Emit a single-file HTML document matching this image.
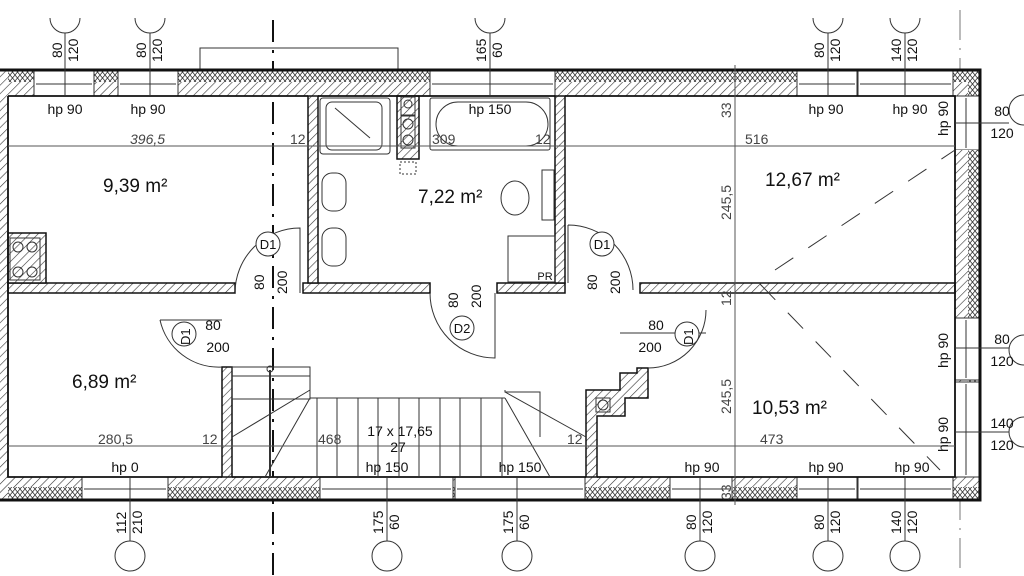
<!DOCTYPE html>
<html><head><meta charset="utf-8"><style>
html,body{margin:0;padding:0;background:#fff;}
svg{display:block;}
text{font-family:"Liberation Sans",sans-serif;fill:#111;}
</style></head><body>
<svg width="1024" height="576" viewBox="0 0 1024 576" xmlns="http://www.w3.org/2000/svg">
<defs>
<pattern id="h" width="6" height="6" patternUnits="userSpaceOnUse" patternTransform="rotate(45)">
<rect width="6" height="6" fill="#fff"/><line x1="0" y1="0" x2="0" y2="6" stroke="#333" stroke-width="1.2"/></pattern>
<pattern id="ins" width="5" height="6" patternUnits="userSpaceOnUse">
<rect width="5" height="6" fill="#fff"/><path d="M0,3 L2.5,0 L5,3 L2.5,6 Z" fill="none" stroke="#333" stroke-width="0.8"/></pattern>
</defs>

<!-- axis lines -->
<line x1="273" y1="20" x2="273" y2="576" stroke="#111" stroke-width="2" stroke-dasharray="22,8,3,8"/>
<line x1="960" y1="10" x2="960" y2="576" stroke="#777" stroke-width="1" stroke-dasharray="30,8,2,8"/>
<polyline points="200,70 200,48 398,48 398,70" fill="none" stroke="#333" stroke-width="1"/>

<!-- top wall: insulation + masonry -->
<rect x="0" y="70" width="980" height="12" fill="url(#ins)"/>
<rect x="0" y="82" width="980" height="14" fill="url(#h)"/>
<!-- right wall -->
<rect x="968" y="70" width="12" height="430" fill="url(#ins)"/>
<rect x="955" y="82" width="13" height="405" fill="url(#h)"/>
<!-- bottom wall -->
<rect x="0" y="487" width="980" height="13" fill="url(#ins)"/>
<rect x="0" y="477" width="980" height="10" fill="url(#h)"/>
<!-- left wall -->
<rect x="0" y="70" width="8" height="430" fill="url(#h)"/>

<!-- windows top (white gaps) -->
<g fill="#fff" stroke="#333" stroke-width="1">
<rect x="34" y="70" width="60" height="26"/>
<rect x="118" y="70" width="60" height="26"/>
<rect x="430" y="70" width="125" height="26"/>
<rect x="797" y="70" width="60" height="26"/>
<rect x="858" y="70" width="95" height="26"/>
<!-- bottom windows -->
<rect x="82" y="477" width="86" height="23"/>
<rect x="320" y="477" width="133" height="23"/>
<rect x="455" y="477" width="130" height="23"/>
<rect x="670" y="477" width="62" height="23"/>
<rect x="797" y="477" width="60" height="23"/>
<rect x="858" y="477" width="95" height="23"/>
<!-- right windows -->
<rect x="955" y="318" width="25" height="62"/>
<rect x="955" y="382" width="25" height="95"/>
<rect x="955" y="96" width="25" height="54"/>
</g>
<g stroke="#333" stroke-width="1" fill="none">
<line x1="36" y1="84" x2="92" y2="84"/><line x1="120" y1="84" x2="176" y2="84"/>
<line x1="432" y1="84" x2="553" y2="84"/><line x1="799" y1="84" x2="855" y2="84"/><line x1="860" y1="84" x2="951" y2="84"/>
<line x1="84" y1="489" x2="166" y2="489"/><line x1="322" y1="489" x2="451" y2="489"/><line x1="457" y1="489" x2="583" y2="489"/>
<line x1="672" y1="489" x2="730" y2="489"/><line x1="799" y1="489" x2="855" y2="489"/><line x1="860" y1="489" x2="951" y2="489"/>
<line x1="966" y1="320" x2="966" y2="378"/><line x1="966" y1="384" x2="966" y2="475"/><line x1="966" y1="98" x2="966" y2="148"/>
</g>
<rect x="955" y="150" width="25" height="140" fill="url(#h)"/>
<rect x="968" y="150" width="12" height="140" fill="url(#ins)"/>

<!-- outline of exterior -->
<path d="M0,70 H980 V500 H0" fill="none" stroke="#111" stroke-width="3"/>

<!-- interior walls -->
<g fill="url(#h)" stroke="#111" stroke-width="1.5">
<rect x="8" y="283" width="227" height="10"/>
<rect x="303" y="283" width="127" height="10"/>
<rect x="497" y="283" width="68" height="10"/>
<rect x="640" y="283" width="315" height="10"/>
<rect x="308" y="96" width="10" height="187"/>
<rect x="555" y="96" width="10" height="187"/>
<rect x="222" y="367" width="10" height="110"/>
<polygon points="586,477 586,390 620,390 620,373 637,373 637,368 648,368 648,398 625,398 625,416 597,416 597,477"/>
<rect x="397" y="96" width="22" height="63"/>
<rect x="8" y="233" width="38" height="50"/>
</g>
<!-- interior face lines -->
<path d="M8,96 H308 M318,96 H555 M565,96 H955 V477 H597 M586,477 H232 M222,477 H8 V96" fill="none" stroke="#111" stroke-width="1.8"/>

<!-- fixtures -->
<g fill="none" stroke="#333" stroke-width="1">
<rect x="320" y="98" width="70" height="56" rx="3"/><rect x="326" y="102" width="56" height="48" rx="6"/>
<line x1="335" y1="108" x2="370" y2="138"/>
<rect x="430" y="98" width="120" height="52" rx="2"/><rect x="436" y="102" width="112" height="44" rx="22"/>
<rect x="401" y="97" width="14" height="18"/><circle cx="408" cy="104" r="4"/>
<rect x="401" y="116" width="14" height="32"/><circle cx="408" cy="124" r="5"/><circle cx="408" cy="140" r="5"/>
<rect x="400" y="162" width="16" height="12" stroke-dasharray="2,2"/>
<rect x="322" y="173" width="24" height="38" rx="10"/><rect x="322" y="228" width="24" height="38" rx="10"/>
<ellipse cx="515" cy="198" rx="14" ry="17"/><rect x="542" y="170" width="12" height="50"/>
<rect x="508" y="236" width="47" height="46"/>
<rect x="10" y="238" width="30" height="42"/>
<circle cx="18" cy="247" r="5"/><circle cx="32" cy="247" r="5"/><circle cx="18" cy="272" r="5"/><circle cx="32" cy="272" r="5"/>
<rect x="596" y="398" width="14" height="14"/><circle cx="603" cy="405" r="5"/>
<!-- doors -->
<path d="M235,293 A65,65 0 0 1 300,228 V293"/>
<path d="M160,320 A60,60 0 0 0 222,367"/><line x1="160" y1="320" x2="222" y2="320"/>
<path d="M430,293 A65,65 0 0 0 495,358 V293"/>
<path d="M568,225 A65,65 0 0 1 633,290 M568,225 V283"/>
<path d="M648,368 A58,58 0 0 0 706,310"/><line x1="620" y1="333" x2="706" y2="333"/>
<!-- stairs -->
<rect x="232" y="367" width="78" height="32"/>
<line x1="232" y1="376" x2="310" y2="376"/>
<path d="M310,398 H505 M310,398 L265,477 M232,437 L310,390 M505,398 L550,477 M505,392 L586,437 M505,390 V392 L540,392 V437"/>
<path d="M317,398 V477 M337,398 V477 M358,398 V477 M378,398 V477 M399,398 V477 M419,398 V477 M440,398 V477 M460,398 V477 M481,398 V477 M502,398 V477"/>
<line x1="270" y1="370" x2="270" y2="476" stroke-width="2"/><circle cx="270" cy="369" r="3"/>
<!-- dimension lines -->
<line x1="8" y1="146" x2="955" y2="146" stroke="#555"/>
<line x1="8" y1="446" x2="955" y2="446" stroke="#555"/>
<line x1="735" y1="65" x2="735" y2="505" stroke="#555"/>
<line x1="760" y1="284" x2="940" y2="470" stroke="#333" stroke-dasharray="22,18"/>
<line x1="775" y1="270" x2="955" y2="150" stroke="#333" stroke-dasharray="22,18"/>
</g>

<!-- grid circles & leaders -->
<g fill="none" stroke="#333" stroke-width="1">
<path d="M50,18 A15,15 0 0 0 80,18 M135,18 A15,15 0 0 0 165,18 M475,18 A15,15 0 0 0 505,18 M813,18 A15,15 0 0 0 843,18 M890,18 A15,15 0 0 0 920,18"/>
<path d="M65,33 V96 M150,33 V96 M490,33 V96 M828,33 V96 M905,33 V96"/>
<circle cx="130" cy="556" r="15"/><circle cx="387" cy="556" r="15"/><circle cx="517" cy="556" r="15"/>
<circle cx="700" cy="556" r="15"/><circle cx="828" cy="556" r="15"/><circle cx="905" cy="556" r="15"/>
<path d="M130,541 V477 M387,541 V477 M517,541 V477 M700,541 V477 M828,541 V477 M905,541 V477"/>
<path d="M1024,95 A15,15 0 0 0 1024,125 M1024,335 A15,15 0 0 0 1024,365 M1024,417 A15,15 0 0 0 1024,447"/>
<path d="M955,123 H1009 M955,348 H1009 M955,432 H1009"/>
<circle cx="268" cy="244" r="12" fill="#fff"/><circle cx="184" cy="334" r="12" fill="#fff"/>
<circle cx="462" cy="328" r="12" fill="#fff"/><circle cx="602" cy="244" r="12" fill="#fff"/><circle cx="687" cy="334" r="12" fill="#fff"/>
</g>

<g font-size="14" text-anchor="middle">
<text x="65" y="114">hp 90</text><text x="148" y="114">hp 90</text><text x="490" y="114">hp 150</text>
<text x="826" y="114">hp 90</text><text x="910" y="114">hp 90</text>
<text x="125" y="472">hp 0</text><text x="387" y="472">hp 150</text><text x="520" y="472">hp 150</text>
<text x="702" y="472">hp 90</text><text x="826" y="472">hp 90</text><text x="912" y="472">hp 90</text>
<text x="1002" y="116">80</text><text x="1002" y="138">120</text>
<text x="1002" y="344">80</text><text x="1002" y="366">120</text>
<text x="1002" y="428">140</text><text x="1002" y="450">120</text>
<text x="213" y="330">80</text><text x="218" y="352">200</text>
<text x="656" y="330">80</text><text x="650" y="352">200</text>
<text x="400" y="436">17 x 17,65</text><text x="398" y="452">27</text>
<text x="268" y="249" font-size="13">D1</text><text x="602" y="249" font-size="13">D1</text>
<text x="462" y="333" font-size="13">D2</text>
<text x="545" y="280" font-size="11">PR</text>
</g>
<g font-size="14" fill="#444">
<text x="130" y="144" font-style="italic" fill="#444" style="fill:#444">396,5</text><text x="290" y="144" style="fill:#444">12</text>
<text x="432" y="144" style="fill:#444">309</text><text x="535" y="144" style="fill:#444">12</text><text x="745" y="144" style="fill:#444">516</text>
<text x="98" y="444" style="fill:#444">280,5</text><text x="202" y="444" style="fill:#444">12</text>
<text x="318" y="444" style="fill:#444">468</text><text x="567" y="444" style="fill:#444">12</text><text x="760" y="444" style="fill:#444">473</text>
</g>
<g font-size="19">
<text x="103" y="192">9,39 m²</text><text x="418" y="203">7,22 m²</text>
<text x="765" y="186">12,67 m²</text><text x="72" y="388">6,89 m²</text><text x="752" y="414">10,53 m²</text>
</g>
<!-- rotated labels -->
<g font-size="14">
<text transform="translate(62,58) rotate(-90)">80</text><text transform="translate(78,62) rotate(-90)">120</text>
<text transform="translate(146,58) rotate(-90)">80</text><text transform="translate(162,62) rotate(-90)">120</text>
<text transform="translate(486,62) rotate(-90)">165</text><text transform="translate(502,58) rotate(-90)">60</text>
<text transform="translate(824,58) rotate(-90)">80</text><text transform="translate(840,62) rotate(-90)">120</text>
<text transform="translate(901,62) rotate(-90)">140</text><text transform="translate(917,62) rotate(-90)">120</text>
<text transform="translate(126,534) rotate(-90)">112</text><text transform="translate(142,534) rotate(-90)">210</text>
<text transform="translate(383,534) rotate(-90)">175</text><text transform="translate(399,530) rotate(-90)">60</text>
<text transform="translate(513,534) rotate(-90)">175</text><text transform="translate(529,530) rotate(-90)">60</text>
<text transform="translate(696,530) rotate(-90)">80</text><text transform="translate(712,534) rotate(-90)">120</text>
<text transform="translate(824,530) rotate(-90)">80</text><text transform="translate(840,534) rotate(-90)">120</text>
<text transform="translate(901,534) rotate(-90)">140</text><text transform="translate(917,534) rotate(-90)">120</text>
<text transform="translate(264,290) rotate(-90)">80</text><text transform="translate(287,294) rotate(-90)">200</text>
<text transform="translate(458,308) rotate(-90)">80</text><text transform="translate(481,308) rotate(-90)">200</text>
<text transform="translate(597,290) rotate(-90)">80</text><text transform="translate(620,294) rotate(-90)">200</text>
<text transform="translate(190,345) rotate(-90)" font-size="13">D1</text>
<text transform="translate(693,345) rotate(-90)" font-size="13">D1</text>
<text transform="translate(948,136) rotate(-90)">hp 90</text>
<text transform="translate(948,368) rotate(-90)">hp 90</text>
<text transform="translate(948,452) rotate(-90)">hp 90</text>
<text transform="translate(731,118) rotate(-90)" style="fill:#444">33</text>
<text transform="translate(731,220) rotate(-90)" style="fill:#444">245,5</text>
<text transform="translate(731,306) rotate(-90)" style="fill:#444">12</text>
<text transform="translate(731,414) rotate(-90)" style="fill:#444">245,5</text>
<text transform="translate(731,500) rotate(-90)" style="fill:#444">33</text>
</g>
</svg>
</body></html>
